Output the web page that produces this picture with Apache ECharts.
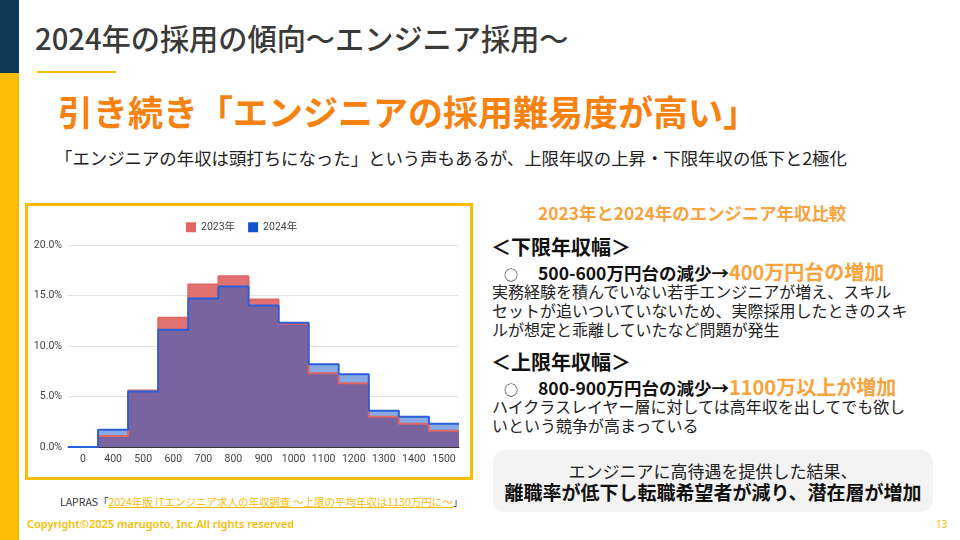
<!DOCTYPE html>
<html>
<head>
<meta charset="utf-8">
<script src="https://cdn.jsdelivr.net/npm/echarts@6/dist/echarts.min.js"></script>
<style>
  body { margin: 0; background: #fff; }
  .slide { position: relative; width: 960px; height: 540px; overflow: hidden; background: #fff;
    font-family: "Noto Sans CJK JP", "Noto Sans", sans-serif; color: #222; }
  .abs { position: absolute; white-space: nowrap; }
  /* 左の帯 */
  .bar_navy { left: 0; top: 0; width: 19px; height: 73px; background: #0d3a55; }
  .bar_yellow { left: 0; top: 73px; width: 19px; height: 467px; background: #fbbc04; }
  .title { left: 35px; top: 18px; font-size: 29.2px; line-height: 38px; font-weight: 500; color: #3a3a3a; }
  .title_line { left: 37px; top: 71px; width: 79px; height: 2px; background: #f9bc00; }
  .headline { left: 58px; top: 88px; font-size: 35px; line-height: 46px; font-weight: 700; color: #f7820f; }
  .lead { left: 55px; top: 146px; font-size: 17.4px; line-height: 24px; color: #222; }
  .chart_box { left: 25px; top: 203px; width: 442px; height: 271px; border: 3px solid #fbbc04; }
  .source { left: 60px; top: 494px; font-size: 10.5px; line-height: 16px; color: #333; }
  .source span { color: #f9bc00; text-decoration: underline; }
  .copy { left: 27px; top: 516px; font-family: "Noto Sans", sans-serif; font-size: 11px; line-height: 16px; font-weight: 600; color: #f9bc00; }
  .page { left: 936px; top: 516px; font-family: "Noto Sans", sans-serif; font-size: 10px; line-height: 16px; color: #f9bc00; }
  /* 右側テキスト */
  .cmp_title { left: 538px; top: 201px; font-size: 17.4px; line-height: 24px; font-weight: 700; color: #f9a33c; }
  .sec { left: 491px; font-size: 20px; line-height: 26px; font-weight: 700; color: #111; }
  .bullet { left: 504px; font-size: 17.5px; line-height: 26px; font-weight: 700; color: #111; }
  .bullet .dot { display: inline-block; width: 34px; font-weight: 400; font-size: 14px; }
  .bullet .hi { font-size: 20px; color: #f9a33c; }
  .body { left: 492px; font-size: 16px; line-height: 19px; color: #222; }
  .note_box { left: 493px; top: 450px; width: 440px; height: 62px; border-radius: 12px; background: #f3f3f3; }
  .note1 { left: 493px; width: 440px; top: 460px; text-align: center; font-size: 17px; line-height: 22px; color: #222; }
  .note2 { left: 493px; width: 440px; top: 480px; text-align: center; font-size: 19px; line-height: 24px; font-weight: 700; color: #111; }
</style>
</head>
<body>
<div class="slide">
  <div class="abs bar_navy"></div>
  <div class="abs bar_yellow"></div>
  <div class="abs title">2024年の採用の傾向〜エンジニア採用〜</div>
  <div class="abs title_line"></div>
  <div class="abs headline">引き続き「エンジニアの採用難易度が高い」</div>
  <div class="abs lead">「エンジニアの年収は頭打ちになった」という声もあるが、上限年収の上昇・下限年収の低下と2極化</div>

  <div class="abs chart_box"></div>
  <div id="chart" class="abs" style="left:28px;top:206px;width:442px;height:271px;"></div>

  <div class="abs source">LAPRAS「<span>2024年版 ITエンジニア求人の年収調査 〜上限の平均年収は1130万円に〜</span>」</div>

  <div class="abs cmp_title">2023年と2024年のエンジニア年収比較</div>
  <div class="abs sec" style="top:234px;">＜下限年収幅＞</div>
  <div class="abs bullet" style="top:259px;"><span class="dot">○</span>500-600万円台の減少→<span class="hi">400万円台の増加</span></div>
  <div class="abs body" style="top:282px;">実務経験を積んでいない若手エンジニアが増え、スキル<br>セットが追いついていないため、実際採用したときのスキ<br>ルが想定と乖離していたなど問題が発生</div>
  <div class="abs sec" style="top:349px;">＜上限年収幅＞</div>
  <div class="abs bullet" style="top:374px;"><span class="dot">○</span>800-900万円台の減少→<span class="hi">1100万以上が増加</span></div>
  <div class="abs body" style="top:397px;">ハイクラスレイヤー層に対しては高年収を出してでも欲し<br>いという競争が高まっている</div>

  <div class="abs note_box"></div>
  <div class="abs note1">エンジニアに高待遇を提供した結果、</div>
  <div class="abs note2">離職率が低下し転職希望者が減り、潜在層が増加</div>

  <div class="abs copy">Copyright©2025 marugoto, Inc.All rights reserved</div>
  <div class="abs page">13</div>
</div>
<script>
// 年収帯（万円）
const incomeBands = ['0', '400', '500', '600', '700', '800', '900', '1000', '1100', '1200', '1300', '1400', '1500']
// 年収帯ごとの割合（%）
const share2023 = [0, 1.1, 5.6, 12.8, 16.1, 16.9, 14.6, 12.2, 7.3, 6.3, 3.0, 2.3, 1.6]
const share2024 = [0, 1.7, 5.5, 11.6, 14.7, 15.9, 14.0, 12.3, 8.2, 7.2, 3.6, 3.0, 2.3]
const seriesNames = ['2023年', '2024年']

// 各年収帯を左端から右端まで階段で描くため、帯の境界に点を置く
function toSteps(vals) {
  const pts = vals.map((v, i) => [i, v])
  pts.push([vals.length, vals[vals.length - 1]])
  return pts
}

const myChart = echarts.init(document.getElementById('chart'))
myChart.setOption({
  animation: false,
  textStyle: { fontFamily: 'Roboto, Arial, sans-serif' },
  legend: {
    top: 11,
    left: 153,
    itemWidth: 10,
    itemHeight: 10,
    itemGap: 13,
    icon: 'rect',
    textStyle: { fontSize: 10.5, color: '#444', fontFamily: 'Roboto, "Noto Sans CJK JP", sans-serif' },
    data: seriesNames
  },
  grid: { left: 40, right: 11, top: 39, bottom: 30 },
  xAxis: [
    {
      type: 'category',
      data: incomeBands,
      boundaryGap: true,
      axisTick: { show: false },
      axisLine: { lineStyle: { color: '#333', width: 1 } },
      axisLabel: { fontSize: 10.5, color: '#444', margin: 7, interval: 0 }
    },
    { type: 'value', min: 0, max: incomeBands.length, show: false }
  ],
  yAxis: {
    type: 'value',
    min: 0,
    max: 20,
    interval: 5,
    axisLine: { show: false },
    axisTick: { show: false },
    splitLine: { lineStyle: { color: '#e3e3e3' } },
    axisLabel: { fontSize: 10.5, color: '#444', margin: 6, formatter: (v) => v.toFixed(1) + '%' }
  },
  series: [
    {
      name: seriesNames[0],
      type: 'line',
      xAxisIndex: 1,
      step: 'end',
      symbol: 'none',
      itemStyle: { color: '#e06666' },
      lineStyle: { color: '#e06666', width: 2 },
      areaStyle: { color: '#e06666', opacity: 0.92 },
      data: toSteps(share2023)
    },
    {
      name: seriesNames[1],
      type: 'line',
      xAxisIndex: 1,
      step: 'end',
      symbol: 'none',
      itemStyle: { color: '#1155cc' },
      lineStyle: { color: '#2b5fd9', width: 2 },
      areaStyle: { color: '#1155cc', opacity: 0.5 },
      data: toSteps(share2024)
    }
  ]
})
</script>
</body>
</html>
